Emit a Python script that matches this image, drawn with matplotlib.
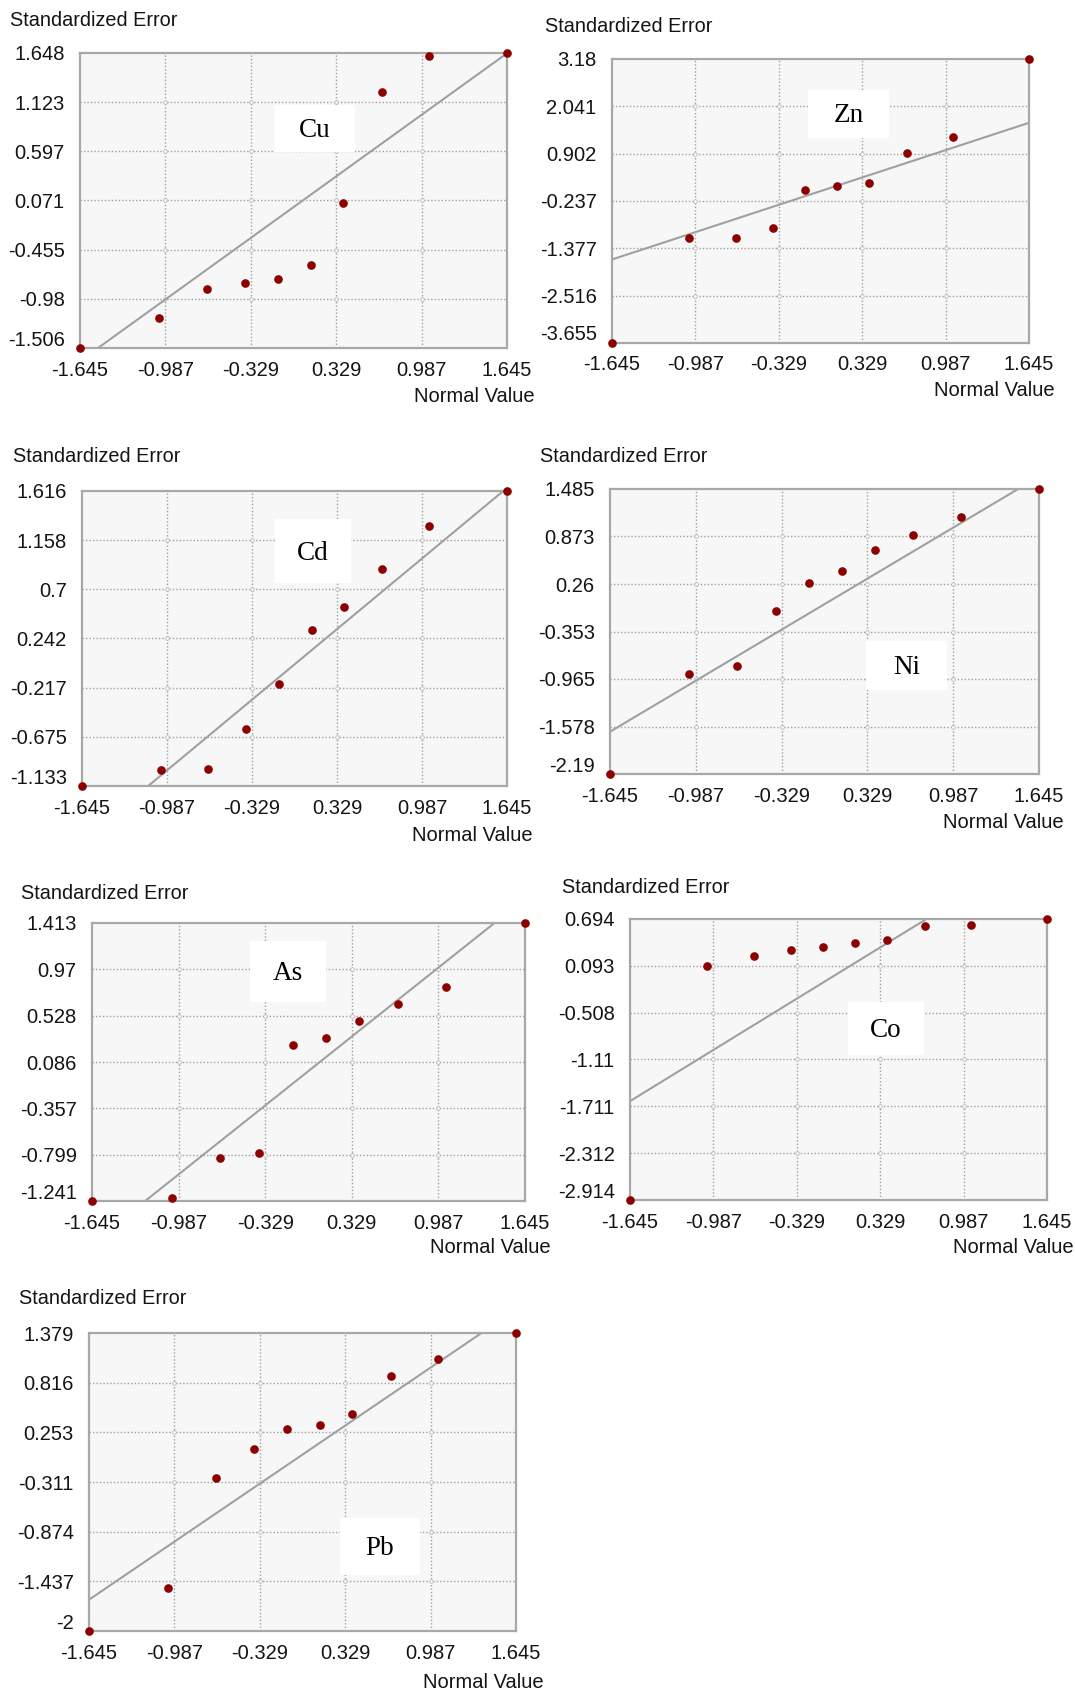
import matplotlib
matplotlib.use("Agg")
import matplotlib.pyplot as plt
from matplotlib.patches import Rectangle
import matplotlib.transforms as mtransforms
import numpy as np

W, H = 1075, 1694

# ---------------- data ----------------
metals = ["Cu", "Zn", "Cd", "Ni", "As", "Co", "Pb"]

normal_values = [-1.645, -1.036, -0.670, -0.374, -0.119, 0.133, 0.385, 0.680, 1.045, 1.645]
x_tick_labels = ["-1.645", "-0.987", "-0.329", "0.329", "0.987", "1.645"]

cu_err = [-1.506, -1.186, -0.877, -0.806, -0.766, -0.614, 0.041, 1.232, 1.616, 1.648]
zn_err = [-3.655, -1.128, -1.128, -0.879, 0.035, 0.123, 0.204, 0.918, 1.295, 3.18]
cd_err = [-1.133, -0.987, -0.972, -0.602, -0.184, 0.319, 0.536, 0.890, 1.293, 1.616]
ni_err = [-2.19, -0.903, -0.791, -0.094, 0.267, 0.422, 0.693, 0.891, 1.119, 1.485]
as_err = [-1.241, -1.216, -0.828, -0.783, 0.253, 0.316, 0.479, 0.637, 0.800, 1.413]
co_err = [-2.914, 0.094, 0.223, 0.291, 0.334, 0.381, 0.428, 0.600, 0.621, 0.694]
pb_err = [-2.0, -1.517, -0.260, 0.069, 0.295, 0.341, 0.462, 0.892, 1.081, 1.379]

cu_yticks = ["-1.506", "-0.98", "-0.455", "0.071", "0.597", "1.123", "1.648"]
zn_yticks = ["-3.655", "-2.516", "-1.377", "-0.237", "0.902", "2.041", "3.18"]
cd_yticks = ["-1.133", "-0.675", "-0.217", "0.242", "0.7", "1.158", "1.616"]
ni_yticks = ["-2.19", "-1.578", "-0.965", "-0.353", "0.26", "0.873", "1.485"]
as_yticks = ["-1.241", "-0.799", "-0.357", "0.086", "0.528", "0.97", "1.413"]
co_yticks = ["-2.914", "-2.312", "-1.711", "-1.11", "-0.508", "0.093", "0.694"]
pb_yticks = ["-2", "-1.437", "-0.874", "-0.311", "0.253", "0.816", "1.379"]

errors = [cu_err, zn_err, cd_err, ni_err, as_err, co_err, pb_err]
yticks = [cu_yticks, zn_yticks, cd_yticks, ni_yticks, as_yticks, co_yticks, pb_yticks]

# reference line: y = slope * x + intercept
ref_slope = 1.0
ref_intercept = 0.0

# ---------------- layout (pixels) ----------------
# axes box: left, top, right, bottom
axes_px = [
    (80, 53, 507, 348),
    (612, 59, 1029, 343),
    (82, 491, 507, 786),
    (610, 489, 1039, 774),
    (92, 923, 525, 1201),
    (630, 919, 1047, 1200),
    (89, 1333, 516, 1631),
]
title_px = [(10, 20), (545, 27), (13, 457), (540, 457), (21, 893), (562, 887), (19, 1299)]
xlabel_px = [(535, 397), (1055, 391), (533, 835), (1064, 822), (551, 1247), (1074, 1247), (544, 1682)]
# label box: left, top, right, bottom
box_px = [
    (275, 105, 355, 152),
    (808, 90, 889, 138),
    (275, 519, 351, 583),
    (866, 641, 947, 690),
    (250, 941, 326, 1002),
    (848, 1002, 924, 1055),
    (340, 1518, 420, 1575),
]

sans = ["Liberation Sans", "DejaVu Sans"]
serif = ["Liberation Serif", "DejaVu Serif"]
text_color = "#141414"
frame_color = "#a8a8a8"
grid_color = "#a0a0a0"
point_color = "#8b0000"

fig = plt.figure(figsize=(W / 100, H / 100), dpi=100)
fig.patch.set_facecolor("white")


def fx(x):
    return x / W


def fy(y):
    return 1 - y / H


for i, name in enumerate(metals):
    l, t, r, b = axes_px[i]
    ax = fig.add_axes([fx(l), fy(b), (r - l) / W, (b - t) / H])
    ax.set_facecolor("#f7f7f7")
    yv = [float(v) for v in yticks[i]]
    xv = [float(v) for v in x_tick_labels]
    ax.set_xlim(xv[0], xv[-1])
    ax.set_ylim(yv[0], yv[-1])
    ax.set_xticks(xv)
    ax.set_xticklabels(x_tick_labels)
    ax.set_yticks(yv)
    ax.set_yticklabels(yticks[i])
    ax.tick_params(axis="x", length=0, labelsize=14.5, labelcolor=text_color, pad=9)
    ax.tick_params(axis="y", length=0, labelsize=14.5, labelcolor=text_color, pad=11)
    for lab in ax.get_xticklabels() + ax.get_yticklabels():
        lab.set_fontfamily(sans)
    # raise the lowest y label (as in the original widget)
    ylabs = ax.get_yticklabels()
    ylabs[0].set_transform(ylabs[0].get_transform() +
                           mtransforms.ScaledTranslation(0, 10 / 100, fig.dpi_scale_trans))
    for s in ax.spines.values():
        s.set_color(frame_color)
        s.set_linewidth(1.6)
    # dotted grid at interior ticks
    for v in xv[1:-1]:
        ax.axvline(v, color=grid_color, lw=1.0, ls=(0, (1, 1.5)), zorder=1)
    for v in yv[1:-1]:
        ax.axhline(v, color=grid_color, lw=1.0, ls=(0, (1, 1.5)), zorder=1)
    gx, gy = np.meshgrid(xv[1:-1], yv[1:-1])
    ax.plot(gx.ravel(), gy.ravel(), ls="none", marker="o", ms=2.6,
            mfc="white", mec="#b8b8b8", mew=0.6, zorder=1.5)
    # reference line
    xl = np.array([xv[0], xv[-1]])
    ax.plot(xl, ref_slope * xl + ref_intercept, color="#a0a0a0", lw=1.5, zorder=2)
    # points
    ax.plot(normal_values, errors[i], ls="none", marker="o", ms=5.2,
            color=point_color, zorder=4, clip_on=False)
    # label box
    bl, bt, br, bb = box_px[i]
    fig.patches.append(Rectangle((fx(bl), fy(bb)), (br - bl) / W, (bb - bt) / H,
                                 transform=fig.transFigure, facecolor="white",
                                 edgecolor="none", zorder=5))
    fig.text(fx((bl + br) / 2), fy((bt + bb) / 2 + 2), name, fontsize=19.5,
             family=serif, ha="center", va="center", color="black", zorder=6)
    # titles
    tx, ty = title_px[i]
    fig.text(fx(tx), fy(ty), "Standardized Error", fontsize=14.3, family=sans,
             color=text_color, ha="left", va="center")
    lx, ly = xlabel_px[i]
    fig.text(fx(lx), fy(ly), "Normal Value", fontsize=14.5, family=sans,
             color=text_color, ha="right", va="center")

fig.savefig("out.png", dpi=100)
